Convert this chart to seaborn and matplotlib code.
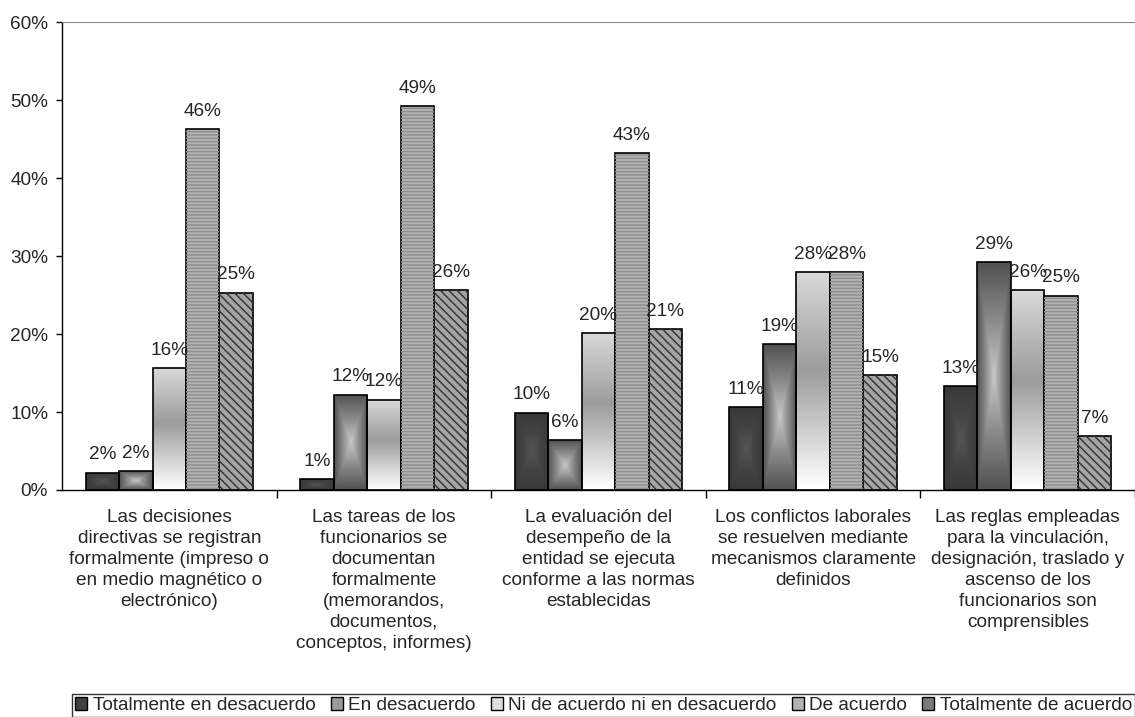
import numpy as np
import pandas as pd
import seaborn as sns
import matplotlib
matplotlib.use("Agg")
from matplotlib import pyplot as plt
from matplotlib.patches import Rectangle
from matplotlib.colors import LinearSegmentedColormap

# datos (porcentaje de respuestas)
categorias = [
    "Las decisiones\ndirectivas se registran\nformalmente (impreso o\nen medio magnético o\nelectrónico)",
    "Las tareas de los\nfuncionarios se\ndocumentan\nformalmente\n(memorandos,\ndocumentos,\nconceptos, informes)",
    "La evaluación del\ndesempeño de la\nentidad se ejecuta\nconforme a las normas\nestablecidas",
    "Los conflictos laborales\nse resuelven mediante\nmecanismos claramente\ndefinidos",
    "Las reglas empleadas\npara la vinculación,\ndesignación, traslado y\nascenso de los\nfuncionarios son\ncomprensibles",
]
series = ["Totalmente en desacuerdo", "En desacuerdo",
          "Ni de acuerdo ni en desacuerdo", "De acuerdo",
          "Totalmente de acuerdo"]
totalmente_desacuerdo = [2.2, 1.4, 9.9, 10.6, 13.3]
en_desacuerdo = [2.4, 12.2, 6.4, 18.7, 29.2]
ni_de_acuerdo_ni_desacuerdo = [15.6, 11.6, 20.1, 27.9, 25.6]
de_acuerdo = [46.3, 49.2, 43.2, 27.9, 24.9]
totalmente_acuerdo = [25.3, 25.6, 20.6, 14.7, 6.9]

valores = [totalmente_desacuerdo, en_desacuerdo, ni_de_acuerdo_ni_desacuerdo,
           de_acuerdo, totalmente_acuerdo]
df = pd.DataFrame({
    "categoria": [c for v in valores for c in categorias],
    "serie": [s for s, v in zip(series, valores) for _ in v],
    "valor": [x for v in valores for x in v],
})

sns.set_style("white")
plt.rcParams["font.family"] = ["Liberation Sans", "DejaVu Sans"]
plt.rcParams["hatch.linewidth"] = 1.0
FS = 13.7

fig = plt.figure(figsize=(11.35, 7.17), dpi=100)
ax = fig.add_axes([0.0546, 0.3166, 0.9454, 0.6527])

sns.barplot(data=df, x="categoria", y="valor", hue="serie", order=categorias,
            hue_order=series, width=0.78, dodge=True, palette=["#444444"] * 5,
            edgecolor="black", linewidth=1.2, legend=False, ax=ax)

# gradientes tipo Excel
g_oscuro = LinearSegmentedColormap.from_list("g1", ["#555555", "#434343", "#383838"])
g_centro = LinearSegmentedColormap.from_list("g2", ["#c8c8c8", "#8a8a8a", "#525252"])
g_vert = LinearSegmentedColormap.from_list(
    "g3", [(0.0, "#ffffff"), (0.55, "#9c9c9c"), (1.0, "#d8d8d8")])

n = 60
u = np.linspace(-1, 1, n)
U, V = np.meshgrid(u, u)
rect = np.maximum(np.abs(U), np.abs(V))
vert = np.tile(np.linspace(1, 0, n)[:, None], (1, n))

for i, cont in enumerate(ax.containers):
    for bar in cont:
        x, y = bar.get_x(), bar.get_y()
        w, h = bar.get_width(), bar.get_height()
        bar.set_zorder(2)
        if i in (0, 1, 2):
            arr, cmap = [(rect, g_oscuro), (rect, g_centro), (vert, g_vert)][i]
            im = ax.imshow(arr, extent=[x, x + w, y, y + h], cmap=cmap,
                           vmin=0, vmax=1, aspect="auto",
                           interpolation="bilinear", zorder=1.9)
            im.set_clip_path(bar)
            bar.set_facecolor("none")
        elif i == 3:
            bar.set_facecolor("#b2b2b2")
            ax.add_patch(Rectangle((x, y), w, h, facecolor="none",
                                   edgecolor="#8e8e8e", hatch="-----",
                                   linewidth=0, zorder=2.05))
        else:
            bar.set_facecolor("#a4a4a4")
            ax.add_patch(Rectangle((x, y), w, h, facecolor="none",
                                   edgecolor="#303030", hatch="\\\\\\\\",
                                   linewidth=0, zorder=2.05))
        ax.text(x + w / 2, h + 1.2, f"{int(h + 0.5)}%", ha="center",
                va="bottom", fontsize=FS)

ax.set_xlim(-0.5, 4.5)
ax.set_ylim(0, 60)
ax.set_yticks(range(0, 61, 10))
ax.set_yticklabels([f"{t}%" for t in range(0, 61, 10)], fontsize=FS)
ax.set_xticks(range(5))
ax.set_xticklabels(categorias, fontsize=FS, linespacing=1.3)
ax.set_xticks([0.5, 1.5, 2.5, 3.5, 4.5], minor=True)
ax.tick_params(axis="x", which="major", length=0, pad=14)
ax.tick_params(axis="x", which="minor", length=6, width=1, color="black",
               direction="out", bottom=True)
ax.tick_params(axis="y", length=4, width=1, color="black", direction="out",
               left=True, pad=6)
ax.set_xlabel("")
ax.set_ylabel("")
ax.spines["right"].set_visible(False)
ax.spines["top"].set_color("#888888")
for s in ("left", "bottom"):
    ax.spines[s].set_color("black")
    ax.spines[s].set_linewidth(1)

handles = [
    Rectangle((0, 0), 1, 1, facecolor="#404040", edgecolor="black"),
    Rectangle((0, 0), 1, 1, facecolor="#9a9a9a", edgecolor="black"),
    Rectangle((0, 0), 1, 1, facecolor="#dedede", edgecolor="black"),
    Rectangle((0, 0), 1, 1, facecolor="#b2b2b2", edgecolor="black"),
    Rectangle((0, 0), 1, 1, facecolor="#7a7a7a", edgecolor="black"),
]
leg = fig.legend(handles, series, loc="lower right", bbox_to_anchor=(1.0, 0.0),
                 ncol=5, fontsize=FS, frameon=True, fancybox=False,
                 edgecolor="black", handlelength=0.62, handleheight=0.62,
                 handletextpad=0.3, columnspacing=0.8, borderpad=0.15,
                 borderaxespad=0.0)
leg.get_frame().set_linewidth(1)

fig.savefig("out.png", dpi=100)
